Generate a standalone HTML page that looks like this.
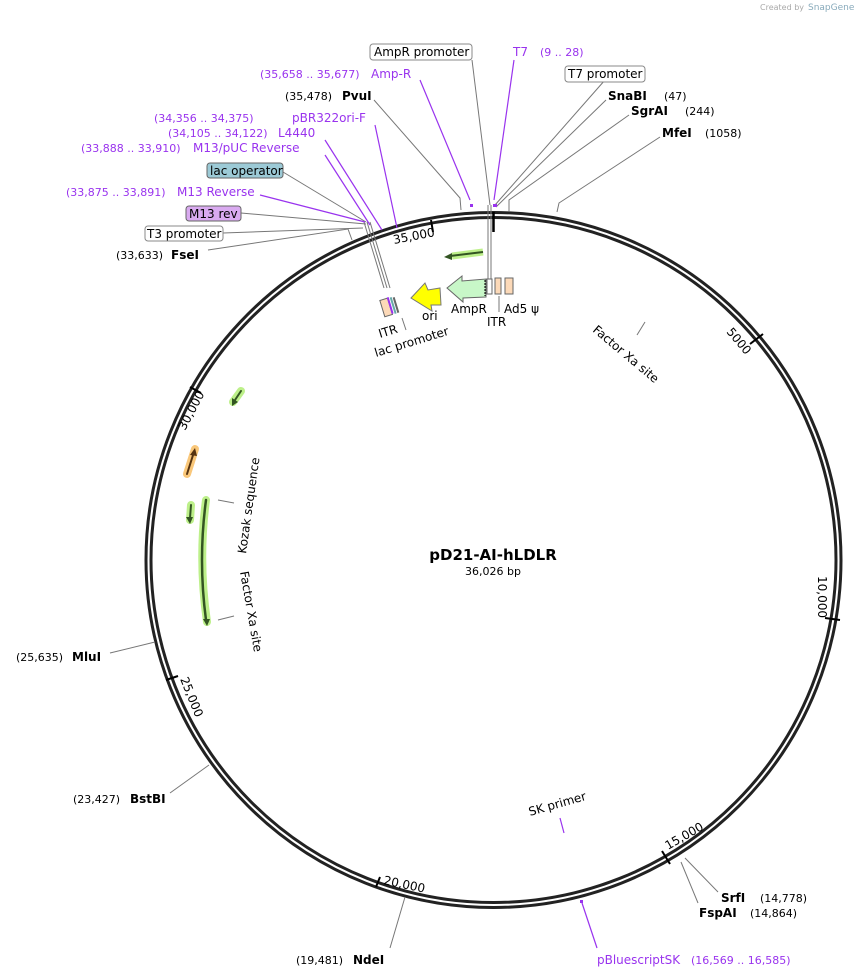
<!DOCTYPE html>
<html><head><meta charset="utf-8"><style>
html,body{margin:0;padding:0;background:#fff}
svg{display:block}
text{font-family:"DejaVu Sans","Liberation Sans",sans-serif;font-size:12px;fill:#000}
.b{font-weight:bold}
.p{fill:#9933ee}
.s{font-size:11px}
</style></head><body>
<svg width="858" height="978" viewBox="0 0 858 978" xmlns="http://www.w3.org/2000/svg">
<text x="760" y="10" style="font-size:8px;fill:#aaa">Created by</text>
<text x="808" y="10" style="font-size:9px;fill:#8ab">SnapGene</text>
<circle cx="493.5" cy="560" r="347.5" fill="none" stroke="#222" stroke-width="3"/>
<circle cx="493.5" cy="560" r="342.5" fill="none" stroke="#222" stroke-width="3"/>
<g stroke="#000" stroke-width="2">
<line x1="763" y1="334" x2="750" y2="344"/>
<line x1="840" y1="620" x2="825" y2="618"/>
<line x1="670" y1="864" x2="662" y2="851"/>
<line x1="376" y1="887" x2="380" y2="877"/>
<line x1="166" y1="680" x2="178" y2="676"/>
<line x1="190" y1="387" x2="201" y2="393"/>
<line x1="431" y1="220" x2="433" y2="232"/>
<line x1="493.5" y1="212" x2="493.5" y2="232" stroke-width="2.5"/>
</g>
<text x="0" y="0" transform="translate(726,332) rotate(50)">5000</text>
<text x="0" y="0" transform="translate(818,576) rotate(90)">10,000</text>
<text x="0" y="0" transform="translate(668,850) rotate(-30)">15,000</text>
<text x="0" y="0" transform="translate(383,884) rotate(12)">20,000</text>
<text x="0" y="0" transform="translate(180,679) rotate(68)">25,000</text>
<text x="0" y="0" transform="translate(185,431) rotate(-62)">30,000</text>
<text x="0" y="0" transform="translate(394,244) rotate(-11)">35,000</text>
<text x="493" y="560" text-anchor="middle" class="b" style="font-size:15px">pD21-AI-hLDLR</text>
<text x="493" y="575" text-anchor="middle" class="s">36,026 bp</text>
<g fill="none" stroke="#777" stroke-width="1">
<polyline points="472,60 490,205"/>
<polyline points="488,205 488,285"/>
<polyline points="491,205 491,285"/>
<polyline points="605,80 495,205"/>
<polyline points="606,100 496,207"/>
<polyline points="629,115 509,200 509,211"/>
<polyline points="660,137 559,203 557,212"/>
<polyline points="374,100 460,198 461,210"/>
<polyline points="283,172 366,222"/>
<polyline points="241,213 366,224"/>
<polyline points="223,233 363,228"/>
<polyline points="208,250 348,229 352,240"/>
<polyline points="110,653 155,642"/>
<polyline points="170,793 209,765"/>
<polyline points="390,948 405,897"/>
<polyline points="718,892 685,858"/>
<polyline points="698,903 681,862"/>
<polyline points="364,222 384,288"/>
<polyline points="367,222 387,288"/>
<polyline points="370,222 390,288"/>
<polyline points="637,335 645,322"/>
<polyline points="218,500 234,503"/>
<polyline points="218,620 234,616"/>
<polyline points="499,296 499,312"/>
<polyline points="402,318 406,330"/>
</g>
<g fill="none" stroke="#9933ee" stroke-width="1.2">
<polyline points="514,60 494,200"/>
<polyline points="420,80 470,200"/>
<polyline points="375,125 397,228"/>
<polyline points="325,140 382,230"/>
<polyline points="325,155 370,225"/>
<polyline points="260,195 365,222"/>
<polyline points="597,948 582,903"/>
<polyline points="560,818 564,833"/>
</g>
<g fill="#9933ee"><rect x="470" y="204" width="3" height="3"/><rect x="493" y="204" width="4" height="3"/><rect x="580" y="900" width="3" height="3"/></g>
<rect x="370" y="44" width="102" height="16" rx="3" fill="#fff" stroke="#888"/>
<text x="374" y="56">AmpR promoter</text>
<rect x="565" y="66" width="80" height="16" rx="3" fill="#fff" stroke="#888"/>
<text x="568" y="78">T7 promoter</text>
<rect x="207" y="163" width="76" height="15" rx="3" fill="#9ccad6" stroke="#666"/>
<text x="210" y="175">lac operator</text>
<rect x="186" y="206" width="55" height="15" rx="3" fill="#d9aaf0" stroke="#666"/>
<text x="189" y="218">M13 rev</text>
<rect x="145" y="226" width="78" height="15" rx="3" fill="#fff" stroke="#888"/>
<text x="147" y="238">T3 promoter</text>
<text x="513" y="56" class="p">T7</text><text x="540" y="56" class="p s">(9 .. 28)</text>
<text x="608" y="100" class="b">SnaBI</text><text x="664" y="100" class="s">(47)</text>
<text x="631" y="115" class="b">SgrAI</text><text x="685" y="115" class="s">(244)</text>
<text x="662" y="137" class="b">MfeI</text><text x="705" y="137" class="s">(1058)</text>
<text x="260" y="78" class="p s">(35,658 .. 35,677)</text><text x="371" y="78" class="p">Amp-R</text>
<text x="285" y="100" class="s">(35,478)</text><text x="342" y="100" class="b">PvuI</text>
<text x="154" y="122" class="p s">(34,356 .. 34,375)</text><text x="292" y="122" class="p">pBR322ori-F</text>
<text x="168" y="137" class="p s">(34,105 .. 34,122)</text><text x="278" y="137" class="p">L4440</text>
<text x="81" y="152" class="p s">(33,888 .. 33,910)</text><text x="193" y="152" class="p">M13/pUC Reverse</text>
<text x="66" y="196" class="p s">(33,875 .. 33,891)</text><text x="177" y="196" class="p">M13 Reverse</text>
<text x="116" y="259" class="s">(33,633)</text><text x="171" y="259" class="b">FseI</text>
<text x="16" y="661" class="s">(25,635)</text><text x="72" y="661" class="b">MluI</text>
<text x="73" y="803" class="s">(23,427)</text><text x="130" y="803" class="b">BstBI</text>
<text x="296" y="964" class="s">(19,481)</text><text x="353" y="964" class="b">NdeI</text>
<text x="597" y="964" class="p">pBluescriptSK</text><text x="691" y="964" class="p s">(16,569 .. 16,585)</text>
<text x="721" y="902" class="b">SrfI</text><text x="760" y="902" class="s">(14,778)</text>
<text x="699" y="917" class="b">FspAI</text><text x="750" y="917" class="s">(14,864)</text>
<path d="M483,252 L452,256" stroke="#bdf08a" stroke-width="7" fill="none"/>
<path d="M483,252 L450,256" stroke="#335522" stroke-width="2" fill="none"/>
<path d="M444,257 l8,-4 l0,7z" fill="#335522"/>
<path d="M447,288 L462,276 L462,281 L486,279 L486,297 L463,298 L463,302 Z" fill="#c8f7c8" stroke="#666"/>
<line x1="485" y1="280" x2="485" y2="296" stroke="#000" stroke-dasharray="2,1"/>
<rect x="487" y="279" width="5" height="15" fill="#fff" stroke="#666"/>
<rect x="495" y="278" width="6" height="16" fill="#fcd9b8" stroke="#666"/>
<rect x="505" y="278" width="8" height="16" fill="#fcd9b8" stroke="#666"/>
<path d="M411,298 L425,283 L428,290 L440,288 L441,305 L431,305 L432,311 Z" fill="#ffff00" stroke="#777"/>
<rect x="382" y="299" width="8" height="17" fill="#fcd9b8" stroke="#666" transform="rotate(-17 386 307)"/>
<rect x="389" y="297" width="2" height="17" fill="#9933ee" transform="rotate(-17 390 305)"/>
<rect x="392" y="297" width="2" height="17" fill="#6aa" transform="rotate(-17 393 305)"/>
<rect x="395" y="297" width="2" height="16" fill="#666" transform="rotate(-17 396 305)"/>
<text x="451" y="313">AmpR</text>
<text x="504" y="313">Ad5 ψ</text>
<text x="487" y="326">ITR</text>
<text x="422" y="320">ori</text>
<text x="0" y="0" transform="translate(380,338) rotate(-17)">ITR</text>
<text x="0" y="0" transform="translate(376,357) rotate(-17)">lac promoter</text>
<text x="0" y="0" transform="translate(592,331) rotate(40)">Factor Xa site</text>
<text x="0" y="0" transform="translate(530,816) rotate(-16)">SK primer</text>
<text x="0" y="0" transform="translate(246,554) rotate(-82)">Kozak sequence</text>
<text x="0" y="0" transform="translate(240,572) rotate(80)">Factor Xa site</text>
<g fill="none" stroke-linecap="round">
<path d="M241,391 L233,402" stroke="#bdf08a" stroke-width="8"/>
<path d="M241,391 L235,400" stroke="#335522" stroke-width="2"/>
<path d="M195,449 L187,474" stroke="#f9c77a" stroke-width="8"/>
<path d="M194,452 L187,474" stroke="#553311" stroke-width="2"/>
<path d="M191,505 L190,520" stroke="#bdf08a" stroke-width="8"/>
<path d="M191,505 L190,518" stroke="#335522" stroke-width="2"/>
<path d="M206,500 Q198,560 207,622" stroke="#bdf08a" stroke-width="8"/>
<path d="M206,500 Q198,560 206,620" stroke="#335522" stroke-width="2.5"/>
</g>
<path d="M232,406 l0,-8 l6,4z" fill="#335522"/>
<path d="M195,448 l-5,7 l7,1z" fill="#553311"/>
<path d="M190,524 l-4,-7 l7,0z" fill="#335522"/>
<path d="M207,626 l-4,-7 l7,0z" fill="#335522"/>
</svg>
</body></html>
